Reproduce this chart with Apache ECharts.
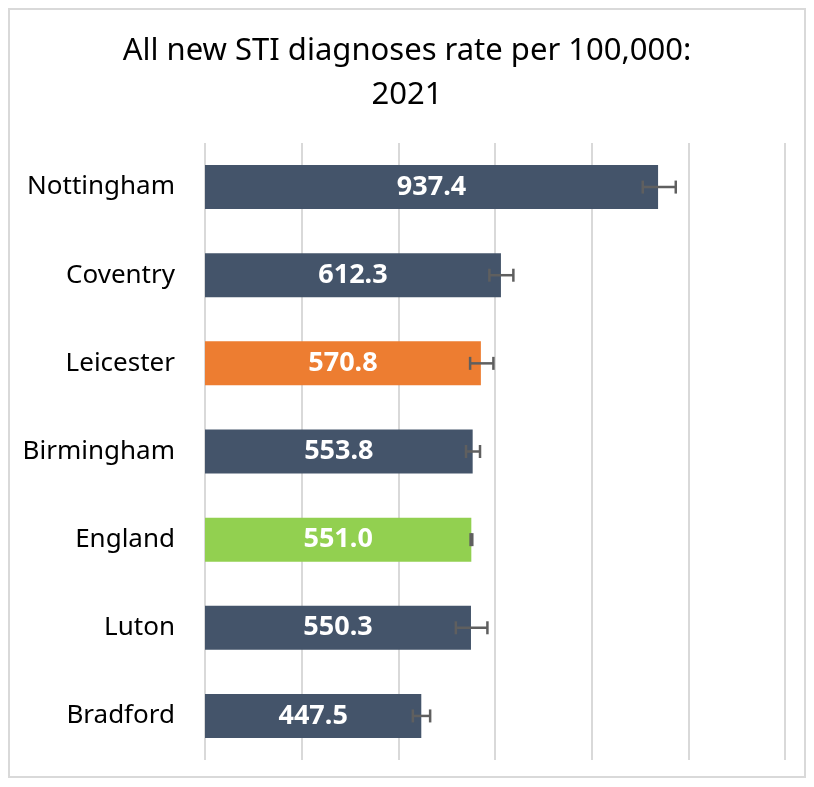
<!DOCTYPE html>
<html>
<head>
<meta charset="utf-8">
<script src="https://cdn.jsdelivr.net/npm/echarts@6/dist/echarts.min.js"></script>
<style>
  html, body { margin: 0; padding: 0; background: #fff; }
  #frame { position: absolute; left: 8px; top: 8px; width: 798px; height: 770px; border: 2px solid #d9d9d9; box-sizing: border-box; }
  #chart { position: absolute; left: 0; top: 0; width: 814px; height: 787px; }
</style>
</head>
<body>
<div id="frame"></div>
<div id="chart"></div>
<script>
// Diagnosis rates per 100,000 population, 2021
const areas = ['Nottingham', 'Coventry', 'Leicester', 'Birmingham', 'England', 'Luton', 'Bradford'];
const rates = [937.4, 612.3, 570.8, 553.8, 551.0, 550.3, 447.5];
// 95% confidence interval bounds
const lowerCI = [905.7, 588.4, 548.5, 540.0, 549.5, 519.0, 430.0];
const upperCI = [974.0, 638.0, 596.7, 569.0, 553.0, 584.3, 465.8];
const barColors = ['#44546A', '#44546A', '#ED7D31', '#44546A', '#92D050', '#44546A', '#44546A'];
const xTicks = [0, 200, 400, 600, 800, 1000, 1200];

const FONT = '"Noto Sans", sans-serif';

const chart = echarts.init(document.getElementById('chart'));
chart.setOption({
  animation: false,
  title: {
    text: 'All new STI diagnoses rate per 100,000:\n2021',
    left: 'center',
    top: 24,
    textStyle: { fontFamily: FONT, fontSize: 31, fontWeight: 'normal', color: '#000', lineHeight: 44 }
  },
  grid: { left: 205, right: 29, top: 143, bottom: 27 },
  xAxis: {
    type: 'value',
    min: xTicks[0],
    max: xTicks[xTicks.length - 1],
    interval: 200,
    axisLabel: { show: false },
    axisLine: { show: false },
    axisTick: { show: false },
    splitLine: { show: true, lineStyle: { color: '#d9d9d9', width: 2 } }
  },
  yAxis: {
    type: 'category',
    data: areas,
    inverse: true,
    axisLine: { show: false },
    axisTick: { show: false },
    axisLabel: { fontFamily: FONT, fontSize: 26, color: '#000', margin: 30 }
  },
  series: [
    {
      type: 'bar',
      barWidth: 44,
      data: rates.map((v, i) => ({ value: v, itemStyle: { color: barColors[i] } })),
      label: {
        show: true,
        position: 'inside',
        formatter: p => p.value.toFixed(1),
        fontFamily: FONT,
        fontSize: 27,
        fontWeight: 'bold',
        color: '#fff'
      },
      z: 2
    },
    {
      type: 'custom',
      z: 3,
      data: areas.map((a, i) => [i, lowerCI[i], upperCI[i]]),
      renderItem: (params, api) => {
        const idx = api.value(0);
        const lo = api.coord([api.value(1), idx]);
        const hi = api.coord([api.value(2), idx]);
        const cap = 6.5;
        const style = { stroke: '#5f5f5f', lineWidth: 2.5, fill: null };
        return {
          type: 'group',
          children: [
            { type: 'line', shape: { x1: lo[0], y1: lo[1], x2: hi[0], y2: hi[1] }, style },
            { type: 'line', shape: { x1: lo[0], y1: lo[1] - cap, x2: lo[0], y2: lo[1] + cap }, style },
            { type: 'line', shape: { x1: hi[0], y1: hi[1] - cap, x2: hi[0], y2: hi[1] + cap }, style }
          ]
        };
      },
      encode: { x: [1, 2], y: 0 }
    }
  ]
});
</script>
</body>
</html>
